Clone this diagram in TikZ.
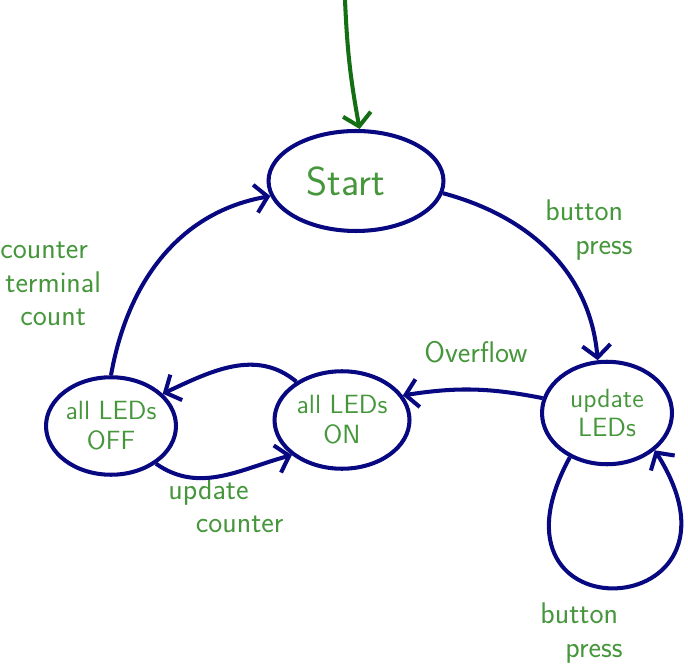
\documentclass[tikz,border=0pt]{standalone}
\usetikzlibrary{shapes.geometric, arrows.meta}
\definecolor{penblue}{RGB}{8,8,128}
\definecolor{pengreen}{RGB}{70,150,60}
\definecolor{initgreen}{RGB}{20,110,20}
\tikzstyle{state} = [ellipse, draw=penblue, line width=2.3pt, text=pengreen, font=\sffamily\fontsize{15}{17}\selectfont, align=center, inner sep=0pt]
\tikzstyle{note} = [text=pengreen, font=\sffamily\fontsize{17}{19}\selectfont, align=left, inner sep=0pt, anchor=west]
\tikzstyle{arrow} = [line width=2.3pt, draw=penblue, -{Straight Barb[length=7pt,width=16pt]}]
\tikzstyle{initarrow} = [line width=2.3pt, draw=initgreen, -{Straight Barb[length=7pt,width=16pt]}]

\begin{document}
\begin{tikzpicture}[x=0.02cm, y=-0.02cm]
\useasboundingbox (0,0) rectangle (688,671);

% states
\node (start) [state, minimum width=3.5cm, minimum height=2cm] at (356,181) {\fontsize{23}{26}\selectfont Start\hspace*{0.4cm}};
\node (off) [state, minimum width=2.6cm, minimum height=1.95cm] at (111,426) {all LEDs\\OFF};
\node (on) [state, minimum width=2.7cm, minimum height=1.95cm] at (342,420) {all LEDs\\ON};
\node (upd) [state, minimum width=2.6cm, minimum height=2.05cm] at (607,413) {update\\LEDs};

% labels
\node (lbpress) [note] at (545,230) {button\\\hspace*{0.6cm}press};
\node (lovfl) [note] at (424,352) {Overflow};
\node (lcount) [note] at (0,284) {counter\\\hspace*{0.1cm}terminal\\\hspace*{0.4cm}count};
\node (lupdc) [note] at (168,506) {update\\\hspace*{0.55cm}counter};
\node (lloop) [note] at (540,633) {button\\\hspace*{0.5cm}press};

% transitions
\coordinate (init) at (345,0);
\draw [initarrow] (init) to[bend right=4] (start.86);
\draw [arrow] (start.-8) to[out=-15, in=95] (upd.100);
\draw [arrow] (upd.167) to[bend right=10] (on.22);
\draw [arrow] (on.140) to[out=140, in=25] (off.32);
\draw [arrow] (off.-40) to[out=-35, in=195] (on.-145);
\draw [arrow] (off.90) to[out=80, in=190] (start.190);
\draw [arrow] (upd.-130) .. controls (470,640) and (765,625) .. (upd.-38);

\end{tikzpicture}
\end{document}
